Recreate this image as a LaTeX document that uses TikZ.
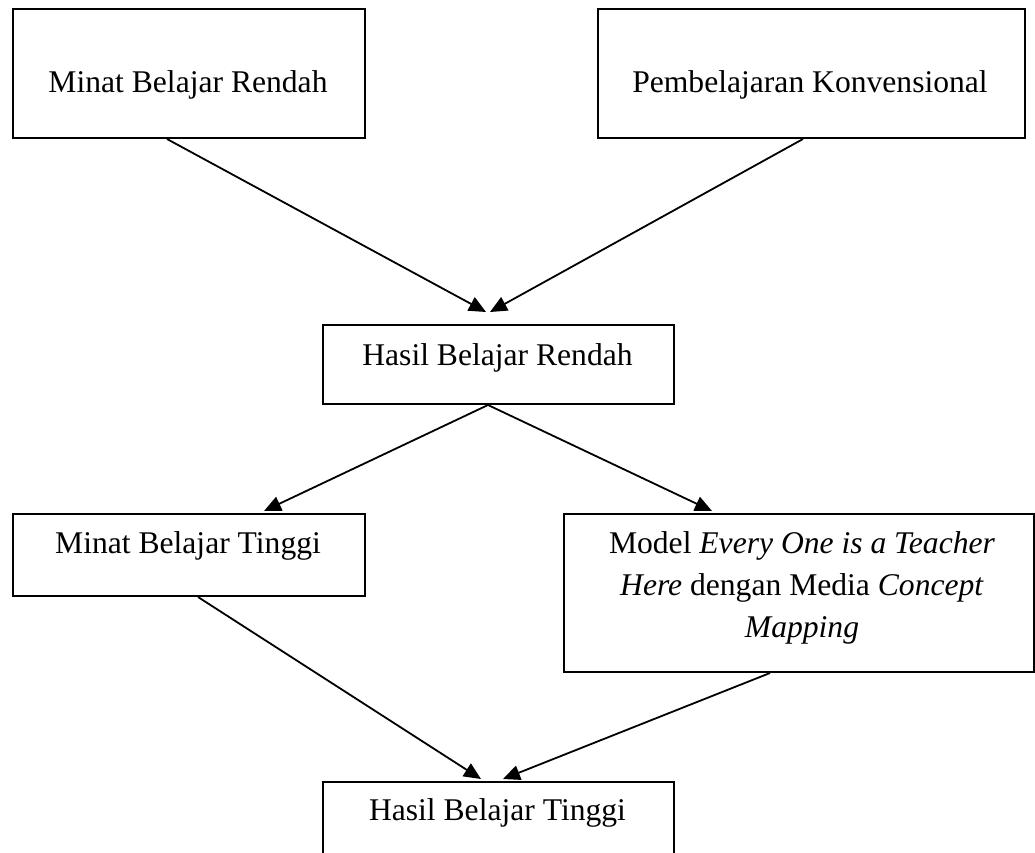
\documentclass[tikz,border=0pt]{standalone}
\usepackage{fontspec}
\setmainfont{Liberation Serif}
\usetikzlibrary{arrows.meta,calc}
\begin{document}
\begin{tikzpicture}[x=1pt,y=-1pt,
  box/.style={draw=black, line width=2pt, rectangle, inner sep=0pt, anchor=north west},
  txt/.style={inner sep=0pt, anchor=base, font=\fontsize{31.6}{42}\selectfont},
  conn/.style={line width=1.8pt, -{Triangle[length=17pt,width=15pt]}}]
\useasboundingbox (0,0) rectangle (1035,852);
\fill[white] (0,0) rectangle (1035,852);
\clip (0,0) rectangle (1035,852);
% boxes
\node[box, minimum width=352pt, minimum height=129pt] (b1) at (12,8) {};
\node[box, minimum width=427pt, minimum height=129pt] (b2) at (597,8) {};
\node[box, minimum width=351pt, minimum height=79pt] (b3) at (322,324) {};
\node[box, minimum width=352pt, minimum height=82pt] (b4) at (12,513) {};
\node[box, minimum width=470pt, minimum height=158pt] (b5) at (563,513) {};
\node[box, minimum width=351pt, minimum height=120pt] (b6) at (322,781) {};
% texts
\node[txt] (t1) at (188,92) {Minat Belajar Rendah};
\node[txt] (t2) at (810,92) {Pembelajaran Konvensional};
\node[txt] (t3) at (497.5,365) {Hasil Belajar Rendah};
\node[txt] (t4) at (188,553) {Minat Belajar Tinggi};
\node[txt] (t5a) at (802,553) {Model \textit{Every One is a Teacher}};
\node[txt] (t5b) at (802,595) {\textit{Here} dengan Media \textit{Concept}};
\node[txt] (t5c) at (802,637) {\textit{Mapping}};
\node[txt] (t6) at (497.5,820) {Hasil Belajar Tinggi};
% connector end points
\coordinate (s1) at (b1.south -| 167,0);
\coordinate (s2) at (b2.south -| 803,0);
\coordinate (s3) at (b3.south -| 488,0);
\coordinate (s4) at (b4.south -| 198,0);
\coordinate (s5) at (b5.south -| 770,0);
\coordinate (e1) at (486,312);
\coordinate (e2) at (490,312);
\coordinate (e3) at (264,511);
\coordinate (e4) at (712,511);
\coordinate (e5) at (481,779);
\coordinate (e6) at (503,779);
% connectors
\draw[conn] (s1) -- (e1);
\draw[conn] (s2) -- (e2);
\draw[conn] (s3) -- (e3);
\draw[conn] (s3) -- (e4);
\draw[conn] (s4) -- (e5);
\draw[conn] (s5) -- (e6);
\end{tikzpicture}
\end{document}
